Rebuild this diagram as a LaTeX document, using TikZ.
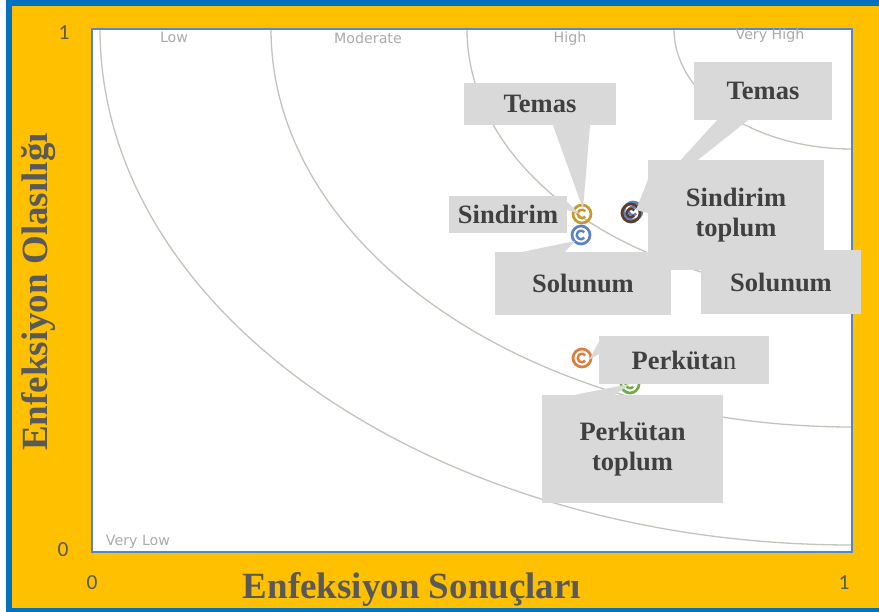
\documentclass[tikz,border=0pt]{standalone}
\usepackage{fontspec}
\setmainfont{Liberation Serif}
\newfontfamily\tickfont{Carlito}
\newfontfamily\zonefont{DejaVu Sans}
\usepackage{tikz}
\usetikzlibrary{backgrounds}

\definecolor{frameblue}{HTML}{0070C0}
\definecolor{frameorange}{HTML}{FFC000}
\definecolor{plotblue}{HTML}{5B84C8}
\definecolor{boxgray}{HTML}{D9D9D9}
\definecolor{textgray}{HTML}{404040}
\definecolor{titlegray}{HTML}{595959}
\definecolor{zonegray}{HTML}{ABABAB}
\definecolor{arcgray}{HTML}{C4C4BC}
\definecolor{mgold}{HTML}{C49A2C}
\definecolor{mblue}{HTML}{5B82C4}
\definecolor{mbrown}{HTML}{5E3B28}
\definecolor{morange}{HTML}{E07B39}
\definecolor{mgreen}{HTML}{70AD47}

\begin{document}
\begin{tikzpicture}[x=1pt, y=-1pt,
  calloutbox/.style={fill=boxgray, text=textgray, align=center, inner sep=0pt, font=\fontsize{26.5}{30}\selectfont\bfseries},
  wedge/.style={fill=boxgray},
  ring/.style={draw=#1, line width=2.7pt},
  riskarc/.style={draw=arcgray, line width=1.3pt},
  zone/.style={text=zonegray, anchor=base, inner sep=0pt, font=\zonefont\fontsize{14.2}{15}\selectfont},
  ticklabel/.style={text=titlegray, inner sep=0pt, font=\tickfont\fontsize{21.5}{22}\selectfont},
  axistitle/.style={text=titlegray, anchor=base, inner sep=0pt, font=\fontsize{37}{40}\selectfont\bfseries}
  ]
\useasboundingbox (0,0) rectangle (879,612);

% noktalar
\coordinate (soluT) at (633,211);
\coordinate (sindT) at (631,213);
\coordinate (sind) at (582,214);
\coordinate (solu) at (581,235);
\coordinate (perk) at (582,358);
\coordinate (perkT) at (630,384);

% etiketler
\node[calloutbox, minimum width=181, minimum height=108] (perkTbox) at (632.5,449) {Perkütan\\toplum};
\node[calloutbox, minimum width=170, minimum height=48] (perkbox) at (684,360) {Perküta{\mdseries n}};
\node[calloutbox, minimum width=176, minimum height=63] (soluLbox) at (583,283.5) {Solunum};
\node[calloutbox, minimum width=176, minimum height=110] (sindTbox) at (736,215) {Sindirim\\toplum};
\node[calloutbox, minimum width=160, minimum height=64] (soluRbox) at (781,282) {Solunum};
\node[calloutbox, minimum width=118, minimum height=37] (sindLbox) at (508,214.5) {Sindirim};
\node[calloutbox, minimum width=152, minimum height=42] (temasLbox) at (540,104) {Temas};
\node[calloutbox, minimum width=138, minimum height=58] (temasRbox) at (763,91) {Temas};

\node[zone] (low) at (174,43) {Low};
\node[zone] (moderate) at (368,44) {Moderate};
\node[zone] (high) at (570,43) {High};
\node[zone] (veryhigh) at (770,40) {Very High};
\node[zone] (verylow) at (138,545) {Very Low};

\node[ticklabel] (y1) at (64,33) {1};
\node[ticklabel] (y0) at (63,550) {0};
\node[ticklabel] (x0) at (92,583) {0};
\node[ticklabel] (x1) at (844,583) {1};

\node[axistitle] (xtitle) at (412,598) {Enfeksiyon Sonuçları};
\node[axistitle, rotate=90] (ytitle) at (47,292) {Enfeksiyon Olasılığı};

\begin{scope}[on background layer]
  \fill[white] (0,0) rectangle (879,612);
  \fill[frameblue] (6,0) rectangle (879,612);
  \fill[frameorange] (12,6) rectangle (879,608);
  \fill[white] (92,29) rectangle (852,552);
  \begin{scope}
    \clip (92,29) rectangle (852,552);
    \foreach \a/\b in {752/516, 581/398, 385/264, 178/120}
      \draw[riskarc] (852-\a,29) arc[start angle=180, end angle=90, x radius=\a, y radius=\b];
  \end{scope}
  \draw[plotblue, line width=1.5pt] (92,29) rectangle (852,552);

  \foreach \pt/\col in {soluT/mblue, sindT/mbrown, sind/mgold, solu/mblue, perk/morange, perkT/mgreen} {
    \draw[ring=\col] (\pt) circle (9);
    \draw[ring=\col, line width=2.4pt] ([shift={(4.3*cos 40,4.3*sin 40)}]\pt) arc[start angle=40, end angle=320, radius=4.3];
  }

  \fill[wedge] ([xshift=13pt]temasLbox.south) -- ([shift={(1,-5)}]sind) -- ([xshift=50pt]temasLbox.south) -- cycle;
  \fill[wedge] ([xshift=-46pt]temasRbox.south) -- ([shift={(5,-4)}]sindT) -- ([xshift=-15pt]temasRbox.south) -- cycle;
  \fill[wedge] ([yshift=12.5pt]sindLbox.east) -- ([xshift=-2pt]sind) -- ([yshift=4.5pt]sindLbox.east) -- cycle;
  \fill[wedge] ([yshift=35pt]sindTbox.west) -- ([shift={(5,-3)}]sindT) -- ([yshift=2pt]sindTbox.west) -- cycle;
  \fill[wedge] ([xshift=-60pt]soluLbox.north) -- ([shift={(-6,6)}]solu) -- ([xshift=-18pt]soluLbox.north) -- cycle;
  \fill[wedge] ([yshift=18pt]perkbox.west) -- ([shift={(7,2)}]perk) -- ([yshift=6pt]perkbox.west) -- cycle;
  \fill[wedge] ([xshift=-57.5pt]perkTbox.north) -- (perkT) -- ([xshift=-17.5pt]perkTbox.north) -- cycle;
\end{scope}

\end{tikzpicture}
\end{document}
